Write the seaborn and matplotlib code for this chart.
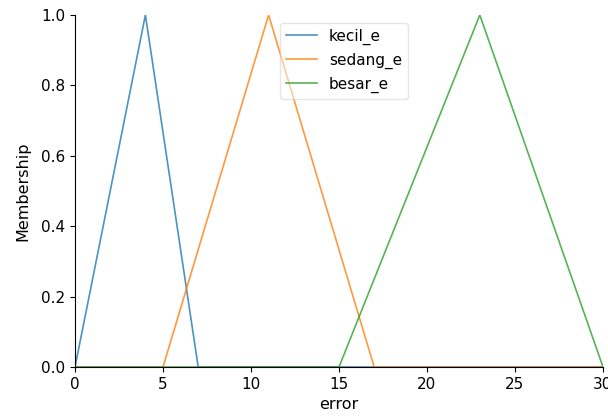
import numpy as np
import pandas as pd
import matplotlib
matplotlib.use("Agg")
import matplotlib.pyplot as plt
import seaborn as sns

# vertices of the membership functions on the error universe
kecil_x = [0, 4, 7, 30]
kecil_y = [0, 1, 0, 0]
sedang_x = [0, 5, 11, 17, 30]
sedang_y = [0, 0, 1, 0, 0]
besar_x = [0, 15, 23, 30]
besar_y = [0, 0, 1, 0]

labels = ["kecil_e", "sedang_e", "besar_e"]

frames = []
for lab, xs, ys in zip(labels, [kecil_x, sedang_x, besar_x], [kecil_y, sedang_y, besar_y]):
    frames.append(pd.DataFrame({"error": xs, "Membership": ys, "set": lab}))
df = pd.concat(frames, ignore_index=True)

plt.rcParams["font.size"] = 11

fig = plt.figure(figsize=(6.08, 4.17), dpi=100)
ax = fig.add_axes([75 / 608, 50 / 417, 528 / 608, 352 / 417])

sns.lineplot(data=df, x="error", y="Membership", hue="set", hue_order=labels,
             palette=["#1f77b4", "#ff7f0e", "#2ca02c"], estimator=None, sort=False,
             lw=1.2, alpha=0.8, ax=ax)

ax.set_xlim(0, 30)
ax.set_ylim(0, 1.0)
ax.set_xticks([0, 5, 10, 15, 20, 25, 30])
ax.set_yticks([0.0, 0.2, 0.4, 0.6, 0.8, 1.0])
ax.set_xlabel("error", fontsize=11.5)
ax.set_ylabel("Membership", fontsize=11.5, labelpad=8)
sns.despine(ax=ax)

ax.legend(loc="upper center", framealpha=0.5, title=None, bbox_to_anchor=(0.51, 1.0))

fig.savefig("out.png", dpi=100)
